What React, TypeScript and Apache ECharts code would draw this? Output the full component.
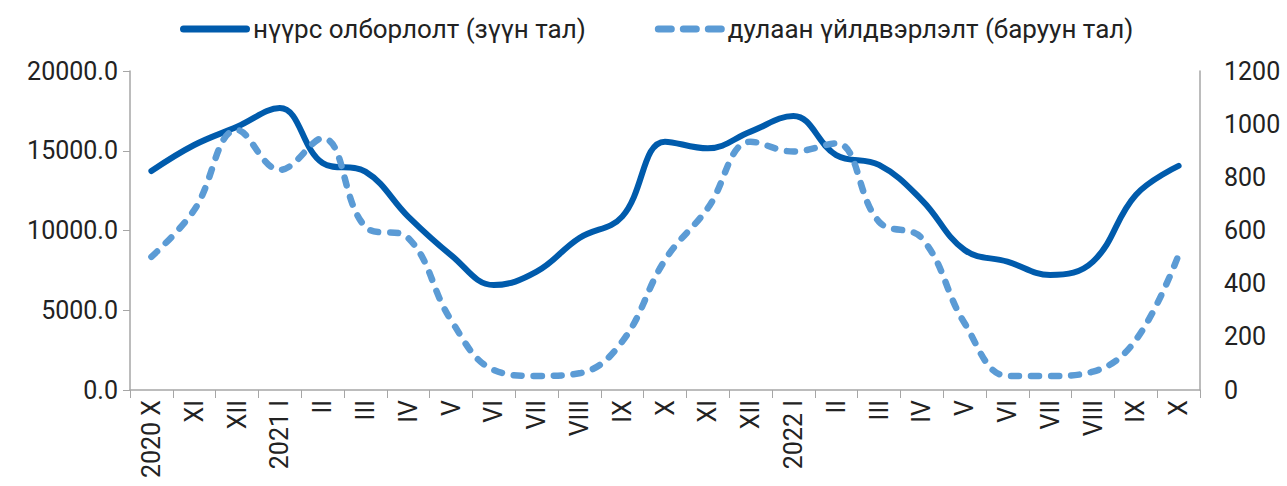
import React, { useEffect, useRef } from "react";
import * as echarts from "echarts";

const categories = [
  "2020 X", "XI", "XII", "2021 I", "II", "III", "IV", "V", "VI", "VII", "VIII", "IX",
  "X", "XI", "XII", "2022 I", "II", "III", "IV", "V", "VI", "VII", "VIII", "IX", "X",
];

const coalMining = [
  13730, 15360, 16500, 17680, 14230, 13690, 10870, 8460, 6580, 7420, 9530, 10870,
  15570, 15150, 16200, 17180, 14730, 14110, 11910, 8780, 8050, 7210, 8050, 12230, 14050,
];

const heatProduction = [
  501, 677, 978, 828, 947, 614, 572, 263, 75, 53, 63, 182,
  489, 684, 934, 897, 928, 633, 571, 251, 53, 53, 69, 188, 508,
];

const seriesNames = ["нүүрс олборлолт (зүүн тал)", "дулаан үйлдвэрлэлт (баруун тал)"];

const FONT = "Roboto";
const TEXT = "#222";
const AXIS = "#a6a6a6";
const C1 = "#005BAC";
const C2 = "#5B9BD5";

const ICON_SOLID =
  "path://M3.5,0 H66.5 A3.5,3.5 0 0 1 66.5,7 H3.5 A3.5,3.5 0 0 1 3.5,0 Z";
const ICON_DASH =
  "path://M3.5,0 H16.5 A3.5,3.5 0 0 1 16.5,7 H3.5 A3.5,3.5 0 0 1 3.5,0 Z " +
  "M28.5,0 H41.5 A3.5,3.5 0 0 1 41.5,7 H28.5 A3.5,3.5 0 0 1 28.5,0 Z " +
  "M53.5,0 H66.5 A3.5,3.5 0 0 1 66.5,7 H53.5 A3.5,3.5 0 0 1 53.5,0 Z";

export default function App() {
  const ref = useRef<HTMLDivElement>(null);
  useEffect(() => {
    document.body.style.margin = "0";
    const chart = echarts.init(ref.current!, null, { renderer: "svg" });
    chart.setOption({
      animation: false,
      textStyle: { fontFamily: FONT },
      legend: {
        top: 11,
        left: 175,
        itemWidth: 70,
        itemHeight: 7,
        itemGap: 69,
        textStyle: { fontFamily: FONT, fontSize: 26, color: TEXT, padding: [0, 0, 0, -2] },
        data: [
          { name: seriesNames[0], icon: ICON_SOLID, itemStyle: { color: C1 } },
          { name: seriesNames[1], icon: ICON_DASH, itemStyle: { color: C2 } },
        ],
      },
      grid: { left: 130, right: 87, top: 71, bottom: 96, containLabel: false },
      xAxis: {
        type: "category",
        data: categories,
        boundaryGap: true,
        axisLine: { lineStyle: { color: AXIS, width: 1.5 } },
        axisTick: { show: true, length: 8, alignWithLabel: false, lineStyle: { color: AXIS } },
        axisLabel: {
          interval: 0,
          rotate: 90,
          margin: 10,
          fontFamily: FONT,
          fontSize: 25,
          color: TEXT,
        },
        splitLine: { show: false },
      },
      yAxis: [
        {
          type: "value",
          min: 0,
          max: 20000,
          interval: 5000,
          axisLine: { show: true, lineStyle: { color: AXIS, width: 1.5 } },
          axisTick: { show: true, length: 7, lineStyle: { color: AXIS } },
          axisLabel: {
            margin: 12,
            fontFamily: FONT,
            fontSize: 25,
            color: TEXT,
            formatter: (v: number) => v.toFixed(1),
          },
          splitLine: { show: false },
        },
        {
          type: "value",
          min: 0,
          max: 1200,
          interval: 200,
          position: "right",
          axisLine: { show: true, lineStyle: { color: AXIS, width: 1.5 } },
          axisTick: { show: false },
          axisLabel: {
            margin: 24,
            fontFamily: FONT,
            fontSize: 25,
            color: TEXT,
            formatter: (v: number) => String(v),
          },
          splitLine: { show: false },
        },
      ],
      series: [
        {
          name: seriesNames[0],
          type: "line",
          yAxisIndex: 0,
          data: coalMining,
          smooth: 0.4,
          symbol: "none",
          lineStyle: { color: C1, width: 6, cap: "round" },
          itemStyle: { color: C1 },
        },
        {
          name: seriesNames[1],
          type: "line",
          yAxisIndex: 1,
          data: heatProduction,
          smooth: 0.4,
          symbol: "none",
          lineStyle: { color: C2, width: 6.5, type: [8, 12], cap: "round" },
          itemStyle: { color: C2 },
        },
      ],
    });
    return () => chart.dispose();
  }, []);
  return <div ref={ref} style={{ width: 1287, height: 486 }} />;
}
